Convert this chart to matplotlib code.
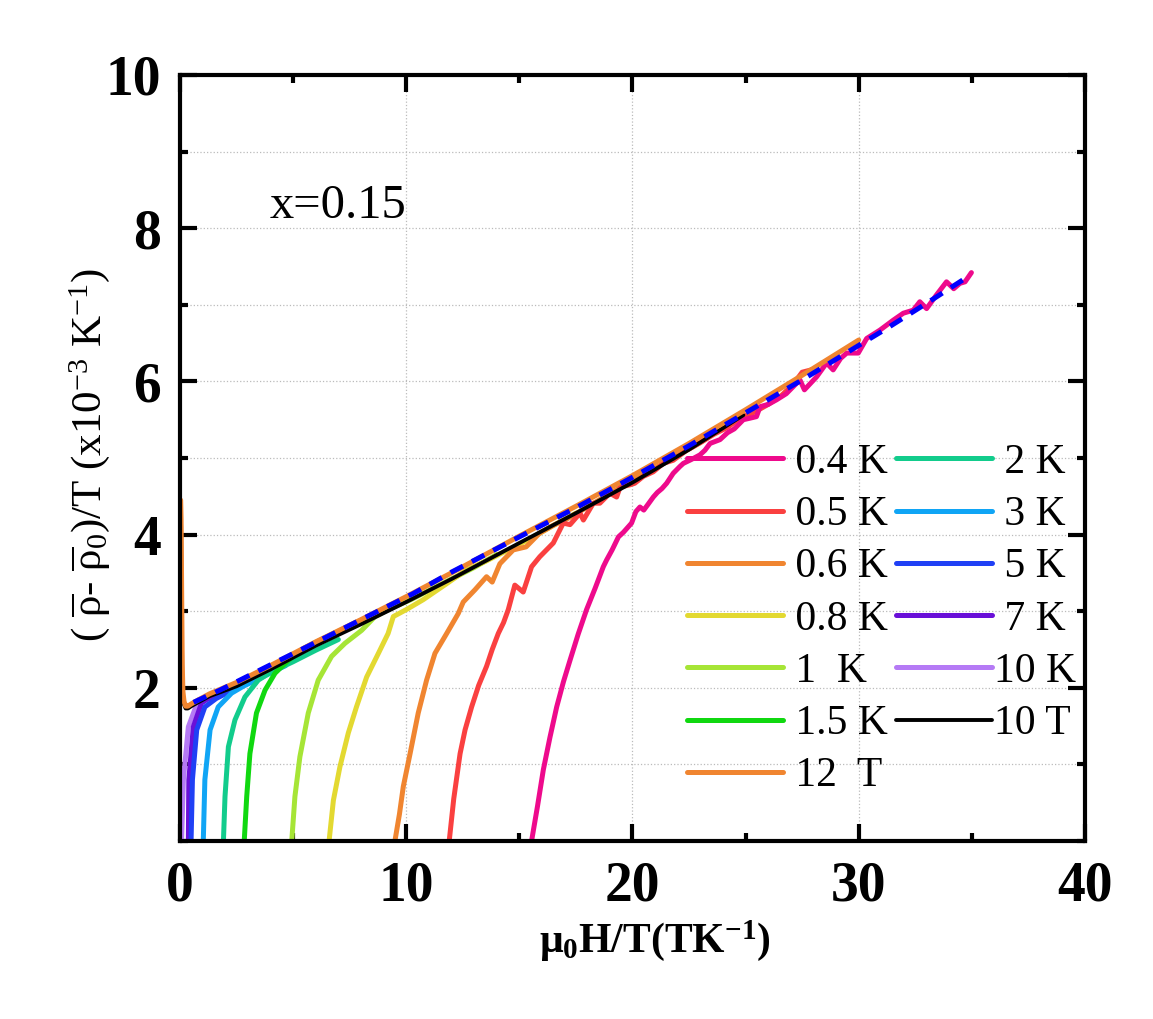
import matplotlib
matplotlib.use("Agg")
import matplotlib.pyplot as plt
from matplotlib.ticker import MultipleLocator

plt.rcParams['font.family'] = ['Liberation Serif', 'DejaVu Serif']
plt.rcParams['mathtext.fontset'] = 'custom'
plt.rcParams['mathtext.rm'] = 'Liberation Serif'
plt.rcParams['mathtext.it'] = 'Liberation Serif:italic'
plt.rcParams['mathtext.bf'] = 'Liberation Serif:bold'

# ---- data: x = mu0 H / T (T/K), y = (rho - rho0)/T (1e-3 /K)
x_04K = [15.54, 15.8, 16.06, 16.35, 16.65, 16.95, 17.24, 17.6, 17.97, 18.35, 18.71,
         18.86, 19.1, 19.38, 19.6, 19.96, 20.15, 20.33, 20.5, 20.7, 20.92, 21.1,
         21.3, 21.51, 21.8, 22.1, 22.25, 22.6, 22.98, 23.2, 23.43, 23.87, 24.2,
         24.5, 24.9, 25.2, 25.48, 25.64, 26.0, 26.37, 26.8, 27.1, 27.4, 27.6,
         28.14, 28.58, 28.87, 29.2, 29.47, 29.98, 30.35, 30.94, 31.53, 31.97,
         32.41, 32.7, 33.0, 33.44, 33.88, 34.2, 34.47, 34.7, 34.98]
y_04K = [0, 0.45, 0.93, 1.35, 1.75, 2.08, 2.36, 2.70, 3.02, 3.30, 3.58, 3.67, 3.80,
         3.97, 4.03, 4.15, 4.30, 4.36, 4.32, 4.40, 4.49, 4.55, 4.60, 4.67, 4.80,
         4.89, 4.93, 4.98, 5.04, 5.10, 5.19, 5.24, 5.33, 5.38, 5.50, 5.52, 5.54,
         5.67, 5.70, 5.76, 5.84, 5.93, 6.02, 5.89, 6.06, 6.24, 6.15, 6.30, 6.37,
         6.37, 6.56, 6.67, 6.80, 6.89, 6.93, 7.04, 6.95, 7.13, 7.30, 7.21, 7.28,
         7.30, 7.42]

x_05K = [11.9, 12.1, 12.38, 12.6, 12.89, 13.2, 13.55, 13.8, 14.07, 14.3, 14.51,
         14.8, 15.17, 15.54, 15.9, 16.2, 16.5, 16.94, 17.24, 17.68, 17.83, 18.27,
         18.56, 19.0, 19.3, 19.45, 19.89, 20.1, 20.48, 20.92, 21.36, 21.8, 22.39,
         23.0, 23.6, 24.2, 24.8, 25.4, 26.0, 26.6, 27.1, 27.5, 27.9]
y_05K = [0, 0.55, 1.14, 1.45, 1.75, 2.03, 2.28, 2.50, 2.71, 2.85, 3.02, 3.34, 3.25,
         3.58, 3.71, 3.80, 3.89, 4.15, 4.13, 4.28, 4.19, 4.41, 4.41, 4.54, 4.49,
         4.62, 4.65, 4.67, 4.76, 4.82, 4.93, 4.97, 5.10, 5.20, 5.31, 5.40, 5.53,
         5.60, 5.70, 5.82, 5.96, 6.12, 6.15]

x_06K = [9.5, 9.7, 9.87, 10.17, 10.53, 10.9, 11.27, 11.79, 12.3, 12.52, 13.04,
         13.55, 13.8, 14.14, 14.73, 15.3, 15.9, 16.5, 17.2, 18.0, 18.8, 19.6,
         20.4, 21.2, 22.0, 22.7, 23.3]
y_06K = [0, 0.35, 0.71, 1.14, 1.67, 2.10, 2.45, 2.71, 2.97, 3.12, 3.28, 3.45, 3.38,
         3.62, 3.80, 3.84, 4.02, 4.12, 4.22, 4.36, 4.50, 4.64, 4.77, 4.90, 5.04,
         5.15, 5.26]

x_08K = [6.59, 6.78, 7.07, 7.44, 7.8, 8.25, 8.77, 9.2, 9.43, 10.0, 10.75, 11.79,
         12.67, 13.5, 14.5, 15.5, 16.5, 17.5]
y_08K = [0, 0.53, 0.97, 1.41, 1.75, 2.14, 2.45, 2.71, 2.93, 3.02, 3.15, 3.36, 3.54,
         3.65, 3.80, 3.95, 4.12, 4.28]

x_1K = [4.94, 5.08, 5.3, 5.67, 6.11, 6.7, 7.29, 8.03, 8.62, 9.35, 10.2, 11.0,
        12.0, 13.0, 14.0]
y_1K = [0, 0.58, 1.10, 1.67, 2.10, 2.41, 2.58, 2.75, 2.93, 3.04, 3.15, 3.27, 3.42,
        3.57, 3.74]

x_15K = [2.84, 2.95, 3.09, 3.38, 3.76, 4.2, 4.79, 5.52, 6.4, 7.3, 8.3, 9.33]
y_15K = [0, 0.58, 1.14, 1.67, 1.97, 2.19, 2.36, 2.52, 2.65, 2.78, 2.92, 3.07]

x_2K = [1.92, 1.99, 2.14, 2.43, 2.87, 3.46, 4.0, 5.0, 6.0, 7.0]
y_2K = [0, 0.58, 1.23, 1.58, 1.88, 2.10, 2.20, 2.34, 2.49, 2.63]

x_3K = [1.03, 1.1, 1.33, 1.69, 2.28, 2.8, 3.5, 4.67]
y_3K = [0, 0.8, 1.45, 1.75, 1.93, 2.02, 2.12, 2.29]

x_5K = [0.49, 0.55, 0.74, 1.1, 1.6, 2.2, 2.8]
y_5K = [0, 0.8, 1.45, 1.75, 1.86, 1.95, 2.04]

x_7K = [0.37, 0.39, 0.59, 0.95, 1.2, 1.6, 2.0]
y_7K = [0, 0.8, 1.49, 1.80, 1.85, 1.90, 1.96]

x_10K = [0.07, 0.15, 0.37, 0.81, 1.1, 1.4]
y_10K = [0, 0.8, 1.49, 1.84, 1.87, 1.90]

x_10T = [0.03, 0.05, 0.08, 0.1, 0.13, 0.18, 0.25, 0.35, 0.5, 0.8, 1.3, 2.5, 4.0,
         6.0, 8.0, 10.0, 12.0, 15.0, 17.5, 20.0, 22.5, 24.9]
y_10T = [4.40, 4.10, 2.90, 2.20, 1.90, 1.78, 1.73, 1.73, 1.76, 1.81, 1.89, 2.02,
         2.24, 2.55, 2.83, 3.12, 3.42, 3.89, 4.28, 4.68, 5.11, 5.56]

x_12T = [0.03, 0.05, 0.08, 0.1, 0.13, 0.18, 0.25, 0.35, 0.5, 0.8, 1.3, 2.5, 4.0,
         6.0, 8.0, 10.0, 12.0, 15.0, 17.5, 20.0, 22.5, 25.0, 27.5, 30.0]
y_12T = [4.45, 4.20, 3.00, 2.30, 1.95, 1.82, 1.76, 1.76, 1.79, 1.84, 1.92, 2.07,
         2.29, 2.60, 2.89, 3.19, 3.50, 3.98, 4.37, 4.77, 5.19, 5.63, 6.08, 6.54]

fit_x = [0.6, 1.77, 4.0, 6.19, 8.0, 10.31, 12.0, 15.0, 17.5, 19.89, 22.5, 25.0,
         27.5, 30.0, 31.23, 33.0, 34.84]
fit_y = [1.81, 1.97, 2.30, 2.62, 2.89, 3.23, 3.51, 3.97, 4.35, 4.73, 5.16, 5.59,
         6.02, 6.47, 6.69, 7.02, 7.37]

# drawing order: temperature sweeps first, then the field sweeps on top
curves = [
    ("10 K", x_10K, y_10K, '#B57AF5'),
    (" 7 K", x_7K, y_7K, '#6A10D8'),
    (" 5 K", x_5K, y_5K, '#2040F5'),
    (" 3 K", x_3K, y_3K, '#10A5F5'),
    (" 2 K", x_2K, y_2K, '#12CC8C'),
    (" 1.5 K", x_15K, y_15K, '#10D810'),
    (" 1  K", x_1K, y_1K, '#A6E536'),
    (" 0.8 K", x_08K, y_08K, '#E3D931'),
    (" 0.6 K", x_06K, y_06K, '#F08530'),
    (" 0.5 K", x_05K, y_05K, '#FA4040'),
    (" 0.4 K", x_04K, y_04K, '#EE0A8C'),
    ("10 T", x_10T, y_10T, 'black'),
    (" 12  T", x_12T, y_12T, '#F08530'),
]
legend_order = [" 0.4 K", " 0.5 K", " 0.6 K", " 0.8 K", " 1  K", " 1.5 K", " 12  T",
                " 2 K", " 3 K", " 5 K", " 7 K", "10 K", "10 T"]

fig = plt.figure(figsize=(11.53, 10.19), dpi=100)
ax = fig.add_axes([0.1561, 0.1747, 0.7849, 0.7517])

handles = {}
for label, xs, ys, color in curves:
    lw = 2.8 if label == "10 T" else 3.6
    line, = ax.plot(xs, ys, color=color, lw=lw, label=label, zorder=2,
                    solid_capstyle='round', solid_joinstyle='round')
    handles[label] = line

ax.plot(fit_x, fit_y, color='#0000FF', lw=3.6, ls=(0, (2.8, 2.0)), zorder=3)

ax.set_xlim(0, 40)
ax.set_ylim(0, 10)
ax.xaxis.set_major_locator(MultipleLocator(10))
ax.xaxis.set_minor_locator(MultipleLocator(5))
ax.yaxis.set_major_locator(MultipleLocator(2))
ax.yaxis.set_minor_locator(MultipleLocator(1))
ax.set_yticks([2, 4, 6, 8, 10])

ax.grid(True, which='major', axis='x', ls=':', lw=0.9, color='#bbbbbb', zorder=0)
ax.grid(True, which='both', axis='y', ls=':', lw=0.9, color='#bbbbbb', zorder=0)

for sp in ax.spines.values():
    sp.set_linewidth(3)
ax.tick_params(which='both', direction='in', top=True, right=True, width=3)
ax.tick_params(which='major', length=12, labelsize=40, pad=14)
ax.tick_params(which='minor', length=6)
for lab in ax.get_xticklabels() + ax.get_yticklabels():
    lab.set_fontweight('bold')

ax.set_xlabel(r'μ$_\mathbf{0}$H/T(TK$^{\mathbf{-1}}$)', fontsize=30, fontweight='bold')
ax.xaxis.set_label_coords(0.525, -0.100)
ax.set_ylabel(r'( $\overline{\mathrm{\rho}}$- $\overline{\mathrm{\rho}}_0$)/T (x10$^{-3}$ K$^{-1}$)',
              fontsize=31)
ax.yaxis.set_label_coords(-0.075, 0.504)

ax.text(3.98, 8.13, "x=0.15", fontsize=35, ha='left', va='baseline')

ax.legend([handles[k] for k in legend_order], legend_order, ncol=2,
          loc='upper left', bbox_to_anchor=(0.56, 0.519), frameon=False,
          fontsize=30, handlelength=2.3, handletextpad=0.05,
          columnspacing=0.2, labelspacing=0.33, borderpad=0, borderaxespad=0)

fig.savefig("out.png", dpi=100)
